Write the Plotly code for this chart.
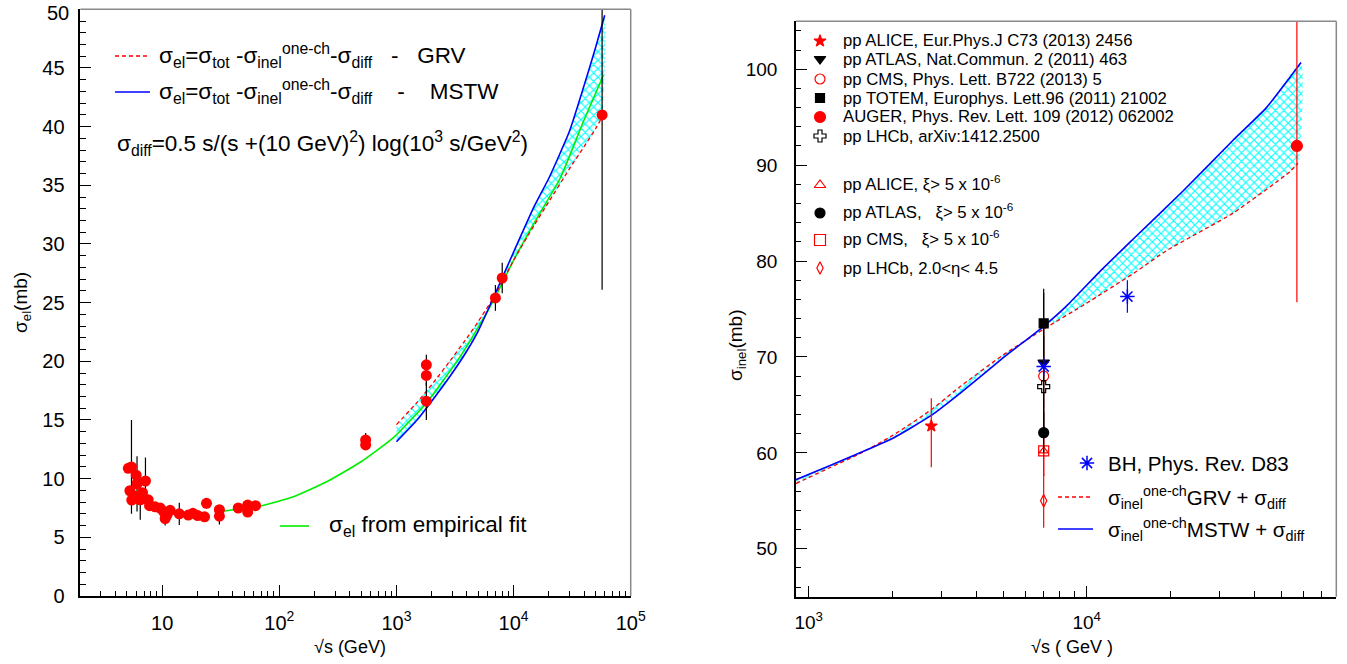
import plotly.graph_objects as go
import numpy as np

W, H = 1347, 664
FONT = "Liberation Sans, Arial, Helvetica, sans-serif"

# ---------------- LEFT PANEL DATA (sigma_el vs sqrt(s)) ----------------
el_sqrt_s = [5.14, 5.47, 5.3, 5.5, 5.9, 6.0, 6.1, 6.2, 6.5, 6.8, 7.2, 7.6, 7.8, 8.7, 9.6,
             10.3, 10.6, 11.0, 11.7, 14.0, 16.7, 18.3, 20.1, 23.0, 23.9, 30.8, 30.8,
             44.6, 53.7, 53.7, 62.7, 546, 546, 1800, 1800, 1800, 7000, 8000]
el_sigma = [10.88, 11.0, 8.97, 8.18, 8.5, 10.3, 9.55, 9.7, 8.2, 8.8, 9.8, 8.2, 7.7, 7.6, 7.5,
            7.2, 6.6, 6.9, 7.3, 7.0, 6.9, 7.05, 6.85, 6.75, 7.9, 7.35, 6.8,
            7.5, 7.75, 7.15, 7.7, 13.3, 12.87, 19.7, 18.8, 16.6, 25.4, 27.1]
el_err = [0.3, 4.0, 0.3, 0.3, 0.3, 0.4, 2.35, 0.4, 1.7, 0.3, 2.0, 0.3, 0.2, 0.2, 0.2,
          0.3, 0.6, 0.2, 0.2, 0.95, 0.2, 0.2, 0.2, 0.2, 0.45, 0.2, 0.7,
          0.2, 0.2, 0.2, 0.2, 0.6, 0.3, 0.85, 0.9, 1.6, 1.1, 1.3]
auger_el_sqrt_s = [57000]
auger_el_sigma = [41.0]
auger_el_err_plus = [15.0]
auger_el_err_minus = [14.9]

# empirical fit curve
fit_sqrt_s = [31, 68.7, 132, 254, 491, 942, 1815, 3500, 4860, 7000, 10000, 15000, 25000, 39700, 58600]
fit_sigma = [7.2, 7.67, 8.46, 9.74, 11.4, 13.5, 16.5, 20.4, 22.7, 25.5, 28.6, 31.8, 35.6, 40.5, 44.4]

# model curves (left)
grv_el_sqrt_s = [1000, 1500, 2000, 3000, 4000, 5000, 7000, 10000, 15000, 20000, 30000, 40000, 50000, 57000]
grv_el_sigma = [14.6, 16.5, 18.0, 20.3, 22.0, 23.4, 25.7, 28.6, 31.6, 33.6, 36.4, 38.3, 39.8, 40.8]
mstw_el_sqrt_s = [1000, 1500, 2000, 3000, 4000, 5000, 7000, 10000, 15000, 20000, 30000, 40000, 50000, 60000]
mstw_el_sigma = [13.15, 15.0, 16.6, 19.0, 20.9, 22.6, 25.8, 29.3, 33.2, 35.6, 39.6, 43.5, 46.7, 49.5]

# ---------------- RIGHT PANEL DATA (sigma_inel vs sqrt(s)) ----------------
grv_in_sqrt_s = [900, 1200, 1500, 2000, 2760, 3500, 5000, 7000, 9980, 14700, 19400, 33600, 53700, 57500]
grv_in_sigma = [56.8, 58.5, 59.8, 61.8, 64.5, 66.9, 70.2, 72.9, 75.6, 78.7, 81.1, 85.0, 89.3, 90.2]
mstw_in_sqrt_s = [900, 1200, 1500, 2000, 2760, 3500, 5000, 7000, 8450, 11140, 14700, 22200, 33600, 44300, 59000]
mstw_in_sigma = [57.2, 58.7, 59.9, 61.5, 63.9, 66.2, 69.9, 73.2, 75.3, 78.9, 82.3, 87.3, 92.6, 96.0, 100.7]

alice_x, alice_y, alice_ep, alice_em = [2760], [62.8], [2.9], [4.3]
atlas_x, atlas_y, atlas_e = [7000], [69.4], [7.3]
cms_x, cms_y, cms_e = [7000], [68.0], [5.3]
totem_x, totem_y, totem_e = [7000], [73.5], [3.6]
auger_x, auger_y, auger_ep, auger_em = [57000], [92.0], [13.5], [16.3]
lhcb_x, lhcb_y, lhcb_e = [7000], [66.9], [5.3]
alice_xi_x, alice_xi_y, alice_xi_e = [7000], [60.2], [2.6]
atlas_xi_x, atlas_xi_y, atlas_xi_e = [7000], [62.1], [2.1]
cms_xi_x, cms_xi_y, cms_xi_e = [7000], [60.2], [2.6]
lhcb_eta_x, lhcb_eta_y, lhcb_eta_e = [7000], [55.0], [2.8]
bh_x, bh_y, bh_e = [7000, 14000], [69.0, 76.3], [1.0, 1.7]

left_xticks = [10, 100, 1000, 10000, 100000]
left_xticktext = ["10", "10<sup>2</sup>", "10<sup>3</sup>", "10<sup>4</sup>", "10<sup>5</sup>"]
left_yticks = list(range(0, 51, 5))
left_yticktext = [str(v) if v < 50 else "" for v in left_yticks]  # top label drawn as annotation
right_xticks = [1000, 10000]
right_xticktext = ["10<sup>3</sup>", "10<sup>4</sup>"]
right_yticks = list(range(50, 101, 10))

RED, BLUE, GREEN, CYAN = "#ff0000", "#0000ff", "#00ee00", "#00ffff"

fig = go.Figure()

def hatch(xa, ya, xb, yb, xaxis, yaxis):
    return go.Scatter(x=list(xa) + list(xb)[::-1], y=list(ya) + list(yb)[::-1],
                      xaxis=xaxis, yaxis=yaxis, mode="lines", fill="toself",
                      line=dict(width=0, shape="spline", smoothing=0.5), fillcolor="rgba(0,0,0,0)",
                      fillpattern=dict(shape="x", fgcolor=CYAN, bgcolor="rgba(255,255,255,0)",
                                       size=6, solidity=0.35),
                      hoverinfo="skip", showlegend=False)

def curve(x, y, color, xaxis, yaxis, dash=None, width=1.6):
    return go.Scatter(x=x, y=y, mode="lines", xaxis=xaxis, yaxis=yaxis, showlegend=False,
                      line=dict(color=color, width=width, dash=dash, shape="spline", smoothing=0.5))

# ---- left panel
fig.add_trace(hatch(grv_el_sqrt_s, grv_el_sigma, mstw_el_sqrt_s, mstw_el_sigma, "x", "y"))
fig.add_trace(curve(fit_sqrt_s, fit_sigma, GREEN, "x", "y"))
fig.add_trace(curve(grv_el_sqrt_s, grv_el_sigma, RED, "x", "y", dash="4px,3px", width=1.3))
fig.add_trace(curve(mstw_el_sqrt_s, mstw_el_sigma, BLUE, "x", "y"))
fig.add_trace(go.Scatter(x=el_sqrt_s, y=el_sigma, mode="markers",
                         marker=dict(color=RED, size=11, symbol="circle"),
                         error_y=dict(type="data", array=el_err, color="black", thickness=1.2, width=0),
                         xaxis="x", yaxis="y", showlegend=False))
fig.add_trace(go.Scatter(x=auger_el_sqrt_s, y=auger_el_sigma, mode="markers",
                         marker=dict(color=RED, size=11, symbol="circle"),
                         error_y=dict(type="data", symmetric=False, array=auger_el_err_plus,
                                      arrayminus=auger_el_err_minus, color="black", thickness=1.2, width=0),
                         xaxis="x", yaxis="y", showlegend=False))

# ---- right panel
fig.add_trace(hatch(grv_in_sqrt_s, grv_in_sigma, mstw_in_sqrt_s, mstw_in_sigma, "x2", "y2"))
fig.add_trace(curve(grv_in_sqrt_s, grv_in_sigma, RED, "x2", "y2", dash="4px,3px", width=1.3))
fig.add_trace(curve(mstw_in_sqrt_s, mstw_in_sigma, BLUE, "x2", "y2"))

def pts(x, y, ep, em, color, symbol, size, mcolor=None, lw=1.2):
    return go.Scatter(x=x, y=y, mode="markers", xaxis="x2", yaxis="y2", showlegend=False,
                      marker=dict(color=mcolor or color, size=size, symbol=symbol,
                                  line=dict(color=color, width=lw)),
                      error_y=dict(type="data", symmetric=False, array=ep, arrayminus=em,
                                   color=color, thickness=1.2, width=0))

fig.add_trace(pts(lhcb_eta_x, lhcb_eta_y, lhcb_eta_e, lhcb_eta_e, RED, "diamond-tall-open", 9))
fig.add_trace(pts(cms_xi_x, cms_xi_y, cms_xi_e, cms_xi_e, RED, "square-open", 10))
fig.add_trace(pts(alice_xi_x, alice_xi_y, alice_xi_e, alice_xi_e, RED, "triangle-up-open", 8))
fig.add_trace(pts(cms_x, cms_y, cms_e, cms_e, RED, "circle-open", 10))
fig.add_trace(pts(atlas_x, atlas_y, atlas_e, atlas_e, "black", "triangle-down", 10))
fig.add_trace(pts(totem_x, totem_y, totem_e, totem_e, "black", "square", 9))
fig.add_trace(pts(lhcb_x, lhcb_y, lhcb_e, lhcb_e, "black", "cross-open", 10))
fig.add_trace(pts(atlas_xi_x, atlas_xi_y, atlas_xi_e, atlas_xi_e, "black", "circle", 10))
fig.add_trace(pts(alice_x, alice_y, alice_ep, alice_em, RED, "star", 9))
fig.add_trace(pts(auger_x, auger_y, auger_ep, auger_em, RED, "circle", 11))
fig.add_trace(pts(bh_x, bh_y, bh_e, bh_e, BLUE, "asterisk-open", 12, lw=1.5))

# ---- legend keys on an overlay pixel axis
def key_line(x0, x1, y, color, dash=None, width=1.5):
    fig.add_trace(go.Scatter(x=[x0, x1], y=[y, y], mode="lines", xaxis="x3", yaxis="y3",
                             line=dict(color=color, width=width, dash=dash), showlegend=False,
                             hoverinfo="skip"))

def key_marker(x, y, symbol, color, size, mcolor=None, lw=1.2):
    fig.add_trace(go.Scatter(x=[x], y=[y], mode="markers", xaxis="x3", yaxis="y3",
                             marker=dict(symbol=symbol, color=mcolor or color, size=size,
                                         line=dict(color=color, width=lw)),
                             showlegend=False, hoverinfo="skip"))

key_line(115, 150, 56, RED, "4px,3px", 1.3)
key_line(115, 150, 92, BLUE, None, 1.5)
key_line(280, 309, 526, GREEN, None, 1.6)
key_line(1058, 1093, 497, RED, "4px,3px", 1.3)
key_line(1058, 1093, 529, BLUE, None, 1.5)

key_marker(820, 41, "star", RED, 9)
key_marker(820, 59, "triangle-down", "black", 10)
key_marker(820, 79, "circle-open", RED, 10)
key_marker(820, 98, "square", "black", 9)
key_marker(820, 117, "circle", RED, 11)
key_marker(820, 136, "cross-open", "black", 10)
key_marker(820, 185, "triangle-up-open", RED, 10)
key_marker(820, 213, "circle", "black", 10)
key_marker(820, 240, "square-open", RED, 11)
key_marker(820, 268, "diamond-tall-open", RED, 9)
key_marker(1087, 463, "asterisk-open", BLUE, 12, lw=1.5)

def ann(text, px, py, size, xanchor="left", yanchor="middle", angle=0, color="black"):
    return dict(text=text, x=px / W, y=1 - py / H, xref="paper", yref="paper", showarrow=False,
                xanchor=xanchor, yanchor=yanchor, textangle=angle,
                font=dict(family=FONT, size=size, color=color))

SP = "&nbsp;"
annots = [
    ann("σ<sub>el</sub>=σ<sub>tot</sub> -σ<sub>inel</sub><sup>one-ch</sup>-σ<sub>diff</sub>" + SP * 3 + "-" + SP * 3 + "GRV", 157, 56, 22.5),
    ann("σ<sub>el</sub>=σ<sub>tot</sub> -σ<sub>inel</sub><sup>one-ch</sup>-σ<sub>diff</sub>" + SP * 4 + "-" + SP * 4 + "MSTW", 157, 92, 22.5),
    ann("σ<sub>diff</sub>=0.5 s/(s +(10 GeV)<sup>2</sup>) log(10<sup>3</sup> s/GeV<sup>2</sup>)", 115, 143, 22.5),
    ann("σ<sub>el</sub> from empirical fit", 327, 526, 22.5),
    ann("pp ALICE, Eur.Phys.J C73 (2013) 2456", 841, 41, 16.7),
    ann("pp ATLAS, Nat.Commun. 2 (2011) 463", 841, 59, 16.7),
    ann("pp CMS, Phys. Lett. B722 (2013) 5", 841, 79, 16.7),
    ann("pp TOTEM, Europhys. Lett.96 (2011) 21002", 841, 98, 16.7),
    ann("AUGER, Phys. Rev. Lett. 109 (2012) 062002", 841, 117, 16.7),
    ann("pp LHCb, arXiv:1412.2500", 841, 136, 16.7),
    ann("pp ALICE, ξ> 5 x 10<sup>-6</sup>", 841, 183, 16.7),
    ann("pp ATLAS," + SP * 3 + "ξ> 5 x 10<sup>-6</sup>", 841, 211, 16.7),
    ann("pp CMS," + SP * 3 + "ξ> 5 x 10<sup>-6</sup>", 841, 238, 16.7),
    ann("pp LHCb, 2.0&lt;η&lt; 4.5", 841, 268, 16.7),
    ann("BH, Phys. Rev. D83", 1106, 463, 20.5),
    ann("σ<sub>inel</sub><sup>one-ch</sup>GRV + σ<sub>diff</sub>", 1106, 497, 20.5),
    ann("σ<sub>inel</sub><sup>one-ch</sup>MSTW + σ<sub>diff</sub>", 1106, 529, 20.5),
    ann("√s (GeV)", 350, 647, 18, xanchor="center"),
    ann("√s ( GeV )", 1072, 647, 18, xanchor="center"),
    ann("σ<sub>el</sub>(mb)", 22, 303, 19, xanchor="center", angle=-90),
    ann("σ<sub>inel</sub>(mb)", 737, 345, 19, xanchor="center", angle=-90),
    ann(str(left_yticks[-1]), 71, 0, 20, xanchor="right", yanchor="top"),
]

def minors_log(lo_exp, hi_exp, lo, hi):
    out = []
    for e in range(lo_exp, hi_exp + 1):
        for m in range(2, 10):
            v = m * 10 ** e
            if lo < v < hi:
                out.append(v)
    return out

def axis_common(size):
    return dict(showgrid=False, zeroline=False, showline=True, linecolor="black", linewidth=1.5,
                ticks="inside", tickcolor="black", tickwidth=1, automargin=False,
                ticklabeloverflow="allow",
                tickfont=dict(family=FONT, size=size, color="black"), mirror=False)

fig.update_layout(
    template="none",
    width=W, height=H, autosize=False,
    margin=dict(l=0, r=0, t=0, b=0, pad=0),
    paper_bgcolor="white", plot_bgcolor="rgba(0,0,0,0)",
    showlegend=False,
    xaxis=dict(domain=[80.3 / W, 630.7 / W], type="log", range=[np.log10(2), 5], anchor="y",
               tickmode="array", tickvals=left_xticks, ticktext=left_xticktext, ticklen=11,
               minor=dict(tickmode="array", tickvals=minors_log(0, 4, 2, 1e5), ticks="inside",
                          ticklen=5.5, tickcolor="black", tickwidth=1),
               ticklabelstandoff=8, **axis_common(20)),
    yaxis=dict(domain=[1 - 596 / H, 1 - 9.3 / H], range=[0, 50], anchor="x",
               tickmode="array", tickvals=left_yticks, ticktext=left_yticktext, ticklen=11,
               minor=dict(tickmode="array", tickvals=[v for v in range(0, 51) if v % 5], ticks="inside",
                          ticklen=5.5, tickcolor="black", tickwidth=1),
               ticklabelstandoff=10, **axis_common(20)),
    xaxis2=dict(domain=[796 / W, 1336.3 / W], type="log", range=[np.log10(900), np.log10(79000)], anchor="y2",
                tickmode="array", tickvals=right_xticks, ticktext=right_xticktext, ticklen=11,
                minor=dict(tickmode="array", tickvals=minors_log(2, 4, 900, 79000), ticks="inside",
                           ticklen=5.5, tickcolor="black", tickwidth=1),
                ticklabelstandoff=8, **axis_common(19)),
    yaxis2=dict(domain=[1 - 596.7 / H, 1 - 21.3 / H], range=[45, 105], anchor="x2",
                tickmode="array", tickvals=right_yticks, ticklen=11,
                minor=dict(tickmode="array", tickvals=[v for v in range(46, 105, 2) if v % 10], ticks="inside",
                           ticklen=5.5, tickcolor="black", tickwidth=1),
                ticklabelstandoff=13, **axis_common(19)),
    xaxis3=dict(domain=[0, 1], range=[0, W], visible=False, fixedrange=True, anchor="y3", automargin=False),
    yaxis3=dict(domain=[0, 1], range=[H, 0], visible=False, fixedrange=True, anchor="x3", automargin=False),
    annotations=annots,
    shapes=[
        dict(type="line", xref="x domain", yref="y domain", x0=0, x1=1, y0=1, y1=1, line=dict(color="#888888", width=1.5)),
        dict(type="line", xref="x domain", yref="y domain", x0=1, x1=1, y0=0, y1=1, line=dict(color="#888888", width=1.5)),
        dict(type="line", xref="x2 domain", yref="y2 domain", x0=0, x1=1, y0=1, y1=1, line=dict(color="#888888", width=1.5)),
        dict(type="line", xref="x2 domain", yref="y2 domain", x0=1, x1=1, y0=0, y1=1, line=dict(color="#888888", width=1.5)),
    ],
)

fig.write_html("out.html")
